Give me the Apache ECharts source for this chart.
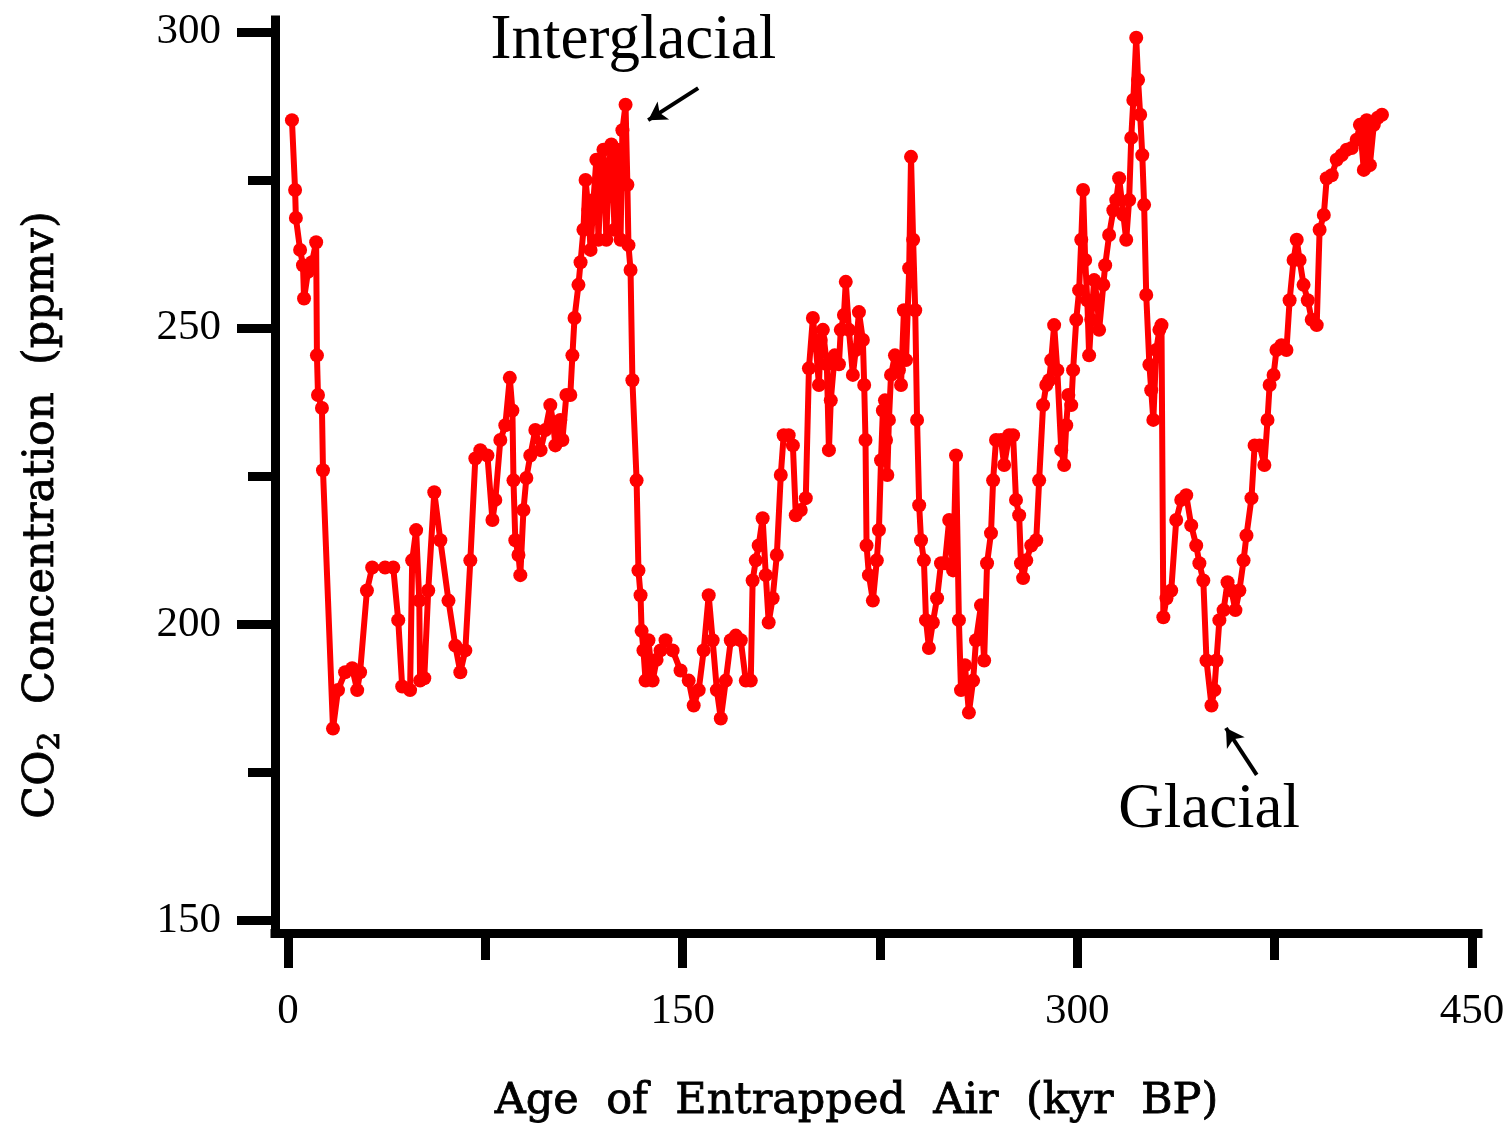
<!DOCTYPE html>
<html><head><meta charset="utf-8">
<script src="https://cdn.jsdelivr.net/npm/echarts@6/dist/echarts.min.js"></script>
<style>html,body{margin:0;padding:0;background:#fff}#c{width:1503px;height:1126px}</style>
</head><body><div id="c"></div>
<script>
// Age of entrapped air (kyr BP)
const ages = [1.5,2.7,3.0,4.6,5.7,6.1,7.6,9.1,10.7,11.0,11.4,12.9,13.3,17.1,19.0,21.7,24.4,26.3,27.4,30.0,
32.0,36.9,40.0,41.9,43.4,46.4,47.2,48.7,49.9,50.2,51.8,53.3,55.6,57.9,61.0,63.6,65.5,67.4,69.3,71.2,
73.1,75.8,77.7,78.8,80.7,82.6,84.3,85.3,85.7,86.4,87.6,88.3,89.5,90.6,92.1,94.0,96.0,97.8,99.7,100.9,
101.6,103.5,104.3,105.8,107.3,108.1,108.9,110.4,111.2,112.3,113.1,114.2,115.0,116.1,117.2,118.0,118.8,119.9,121.0,121.8,
122.9,124.1,125.2,126.4,127.1,128.3,129.0,129.4,130.2,130.9,132.5,133.2,134.0,134.4,135.1,135.9,137.0,138.6,140.1,141.6,
143.5,146.2,149.2,152.3,154.2,156.1,158.0,159.9,161.4,163.0,164.5,166.4,168.3,170.2,172.1,174.0,175.9,176.6,177.8,178.9,
180.4,181.6,182.7,184.2,185.8,187.3,188.4,190.3,191.9,193.0,194.9,196.8,198.0,199.5,200.6,201.8,202.5,203.3,204.8,205.6,
206.3,207.8,209.4,210.1,211.3,212.0,213.2,214.7,215.8,217.0,218.5,219.0,219.5,219.9,220.8,222.3,223.8,224.6,225.4,226.1,
226.9,227.3,227.8,228.4,229.2,230.7,232.2,233.0,234.1,234.9,236.1,236.8,237.6,238.4,239.1,239.9,240.6,241.7,242.5,243.6,
245.1,246.7,248.2,249.7,251.3,252.8,253.9,255.0,255.8,257.3,258.8,260.4,261.5,263.4,264.6,265.7,267.2,268.0,269.1,271.0,
272.2,274.1,275.6,276.7,277.9,278.6,279.4,280.6,282.5,284.4,285.5,287.0,288.2,289.3,290.1,291.2,292.4,293.9,295.0,295.8,
296.6,297.7,298.4,299.6,300.7,301.5,302.2,303.0,303.8,304.5,305.3,306.4,307.6,308.3,309.9,310.6,312.1,313.7,314.8,315.9,
317.5,318.6,319.7,320.5,321.3,322.4,323.1,323.9,324.7,325.4,326.2,327.4,328.1,328.9,330.0,331.2,332.0,332.7,333.9,335.7,
337.6,339.5,341.4,343.3,345.2,346.4,347.9,349.1,351.0,352.1,352.9,354.0,355.6,357.1,358.6,360.1,361.6,363.2,364.3,366.2,
367.4,369.3,371.1,372.3,373.1,374.6,375.7,377.6,379.5,380.7,382.2,383.4,384.5,386.0,387.6,389.1,391.0,392.1,393.7,394.8,
396.7,398.6,400.5,402.4,404.3,406.2,407.4,408.9,410.0,411.2,412.7,414.2,415.8];
// CO2 concentration (ppmv)
const co2 = [285.1,273.3,268.6,263.2,260.6,255.0,259.5,261.1,264.5,245.4,238.7,236.5,226.0,182.4,188.9,191.9,192.6,188.9,191.9,205.7,
209.6,209.6,209.6,200.7,189.5,188.9,210.8,215.9,204.0,190.5,190.9,205.7,222.3,214.2,204.0,196.4,191.9,195.6,210.8,228.0,
229.4,228.5,217.6,221.0,231.1,233.6,241.6,236.1,224.3,214.2,211.7,208.3,219.3,224.7,228.5,232.8,229.4,232.8,237.0,233.6,
230.2,234.5,231.1,238.7,238.7,245.4,251.7,257.3,261.1,266.6,275.0,269.9,263.2,271.6,278.4,264.9,274.2,280.1,264.9,276.7,
281.0,266.6,280.1,264.9,283.4,287.7,274.2,264.0,259.8,241.2,224.3,209.1,204.9,198.9,195.6,190.5,197.3,190.5,194.0,195.6,
197.3,195.6,192.2,190.5,186.3,188.9,195.6,204.9,197.3,188.9,184.1,190.5,197.3,198.1,197.3,190.5,190.5,207.4,210.8,213.3,
217.9,208.3,200.3,204.4,211.7,225.2,231.9,231.9,230.2,218.4,219.3,221.3,243.2,251.7,247.1,240.4,248.0,249.7,243.9,229.4,
237.8,245.4,243.9,249.7,252.2,257.8,249.7,242.1,246.3,252.7,248.0,240.4,231.1,213.3,208.3,204.0,210.8,215.9,227.7,236.1,
237.8,231.1,225.2,234.5,242.1,245.4,242.9,240.4,253.0,244.6,260.1,278.9,264.9,253.0,234.5,220.1,214.2,210.8,200.7,196.0,
200.3,204.4,210.3,210.3,217.6,209.1,228.5,200.7,188.9,193.1,185.1,190.5,197.3,203.2,193.9,210.3,215.4,224.3,231.1,231.1,
226.9,231.9,231.9,221.0,218.4,210.3,207.8,210.8,213.3,214.2,224.3,237.0,240.4,241.2,244.6,250.5,242.9,229.4,226.9,233.6,
238.7,237.0,242.9,251.4,256.4,264.9,273.3,261.5,254.7,245.4,251.4,258.1,254.7,249.7,257.3,260.6,265.7,269.9,271.6,275.3,
269.1,264.9,271.6,282.1,288.5,299.0,291.9,286.0,279.2,270.8,255.6,243.8,239.5,234.5,246.3,249.7,250.5,201.2,204.4,205.7,
217.6,221.0,221.8,216.7,213.3,210.3,207.4,193.9,186.3,188.9,193.9,200.7,202.4,207.1,205.7,202.4,205.7,210.8,215.0,221.3,
230.2,230.2,226.9,234.5,240.4,242.1,246.3,247.1,246.3,254.7,261.5,264.9,261.5,257.3,254.7,251.4,250.5,266.6,269.1,275.3,
275.8,278.4,279.2,280.1,280.4,281.8,284.3,276.7,285.1,277.5,284.3,285.5,286.0];

const xMajorTicks = [0,150,300,450];
const xMinorTicks = [75,225,375];
const yMajorTicks = [150,200,250,300];
const yMinorTicks = [175,225,275];
const xTitle = 'Age  of  Entrapped  Air  (kyr  BP)';
const yTitle = 'CO{sub|2}  Concentration  (ppmv)';
const annotations = [
  {text: 'Interglacial', at: [131.3, 298.3], arrowFrom: [155.9, 290.5], arrowTo: [136.9, 285.1]},
  {text: 'Glacial', at: [350.1, 168.5], arrowFrom: [368.2, 174.6], arrowTo: [356.5, 182.5]}
];

const chart = echarts.init(document.getElementById('c'), null, {renderer: 'canvas'});
const tickFont = {fontFamily: 'Liberation Serif', fontSize: 43, color: '#000'};
const axisLineStyle = {color: '#000', width: 9, cap: 'square'};
const xRange = {min: -4.94, max: 452.3};
const yRange = {min: 147.9, max: 302};

chart.setOption({
  animation: false,
  backgroundColor: '#fff',
  grid: {left: 275, right: 25, top: 20, bottom: 193, containLabel: false, outerBoundsMode: 'none'},
  xAxis: [
    Object.assign({type: 'value', position: 'bottom',
      axisLine: {show: true, onZero: false, lineStyle: axisLineStyle},
      axisTick: {show: true, customValues: xMajorTicks, length: 35, lineStyle: {color: '#000', width: 9}},
      axisLabel: Object.assign({show: true, customValues: xMajorTicks, margin: 57}, tickFont),
      splitLine: {show: false},
      name: xTitle, nameLocation: 'middle', nameGap: 147,
      nameTextStyle: {fontFamily: 'DejaVu Serif', fontSize: 43, color: '#000',
        textBorderColor: '#000', textBorderWidth: 0.8, padding: [0, 40, 0, 0]}
    }, xRange),
    Object.assign({type: 'value', position: 'bottom',
      axisLine: {show: false, onZero: false},
      axisTick: {show: true, customValues: xMinorTicks, length: 27, lineStyle: {color: '#000', width: 9}},
      axisLabel: {show: false}, splitLine: {show: false}
    }, xRange)
  ],
  yAxis: [
    Object.assign({type: 'value', position: 'left',
      axisLine: {show: true, onZero: false, lineStyle: axisLineStyle},
      axisTick: {show: true, customValues: yMajorTicks, length: 38, lineStyle: {color: '#000', width: 9}},
      axisLabel: Object.assign({show: true, customValues: yMajorTicks, margin: 54}, tickFont),
      splitLine: {show: false}
    }, yRange),
    Object.assign({type: 'value', position: 'left',
      axisLine: {show: false, onZero: false},
      axisTick: {show: true, customValues: yMinorTicks, length: 27, lineStyle: {color: '#000', width: 9}},
      axisLabel: {show: false}, splitLine: {show: false}
    }, yRange)
  ],
  graphic: [{
    type: 'text', rotation: Math.PI / 2,
    x: 42, y: 515,
    style: {
      text: yTitle,
      font: '43px "DejaVu Serif"', fill: '#000', align: 'center', verticalAlign: 'middle',
      stroke: '#000', lineWidth: 0.8,
      rich: {sub: {fontFamily: 'DejaVu Serif', fontSize: 30, padding: [18, 0, 0, 0]}}
    }
  }],
  series: [{
    type: 'line',
    xAxisIndex: 0, yAxisIndex: 0,
    data: ages.map((a, i) => [a, co2[i]]),
    symbol: 'circle', symbolSize: 14, showSymbol: true, showAllSymbol: true,
    lineStyle: {color: '#ff0000', width: 6},
    itemStyle: {color: '#ff0000'},
    clip: false,
    markPoint: {
      symbol: 'circle', symbolSize: 0,
      label: {show: true, position: 'inside', color: '#000', fontFamily: 'Liberation Serif', fontSize: 63,
        formatter: p => p.name},
      data: annotations.map(a => ({name: a.text, coord: a.at}))
    },
    markLine: {
      silent: true, symbol: ['none', 'arrow'], symbolSize: [16, 18],
      lineStyle: {color: '#000', width: 4, type: 'solid'},
      label: {show: false},
      data: annotations.map(a => [{coord: a.arrowFrom}, {coord: a.arrowTo}])
    }
  }]
});
</script></body></html>
